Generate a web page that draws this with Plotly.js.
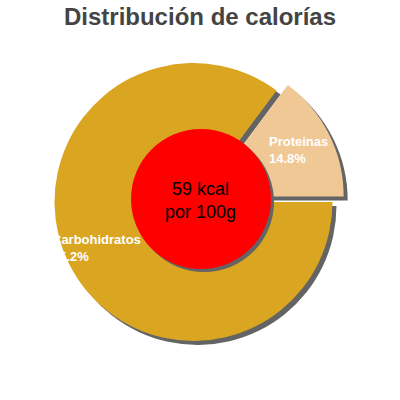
<!DOCTYPE html>
<html>
<head>
<meta charset="utf-8">
<script src="https://cdn.plot.ly/plotly-3.0.1.min.js"></script>
<style>
  html, body { margin: 0; padding: 0; background: #fff; }
  #chart { width: 400px; height: 400px; }
</style>
</head>
<body>
<div id="chart"></div>
<script>
// Datos del gráfico
const categorias = ["Carbohidratos", "Proteinas"];
const porcentajes = [85.2, 14.8];
const colores = ["#DAA520", "#F0C896"];
const separacion = [0, 0.09];
const energia = "59 kcal";
const porcion = "por 100g";

const W = 400, H = 400;
const px = v => v / W;          // pixel -> fracción horizontal
const py = v => (H - v) / H;    // pixel (desde arriba) -> fracción vertical

// Dominio de la tarta (centro ~193,202 radio ~139, con espacio para el "pull")
const cx = 193.5, cy = 202, medio = 151.5;
const sombra = 4;

function dominio(dx, dy) {
    return {
        x: [px(cx - medio + dx), px(cx + medio + dx)],
        y: [py(cy + medio + dy), py(cy - medio + dy)]
    };
}

const trazaSombra = {
    type: "pie",
    values: porcentajes,
    labels: categorias.map(c => c + " sombra"),
    marker: { colors: porcentajes.map(() => "#646464"), line: { width: 0 } },
    pull: separacion,
    sort: false,
    direction: "clockwise",
    rotation: 90,
    textinfo: "none",
    hoverinfo: "skip",
    showlegend: false,
    domain: dominio(sombra, sombra)
};

const trazaTarta = {
    type: "pie",
    values: porcentajes,
    labels: categorias,
    marker: { colors: colores, line: { width: 0 } },
    pull: separacion,
    sort: false,
    direction: "clockwise",
    rotation: 90,
    textinfo: "none",
    showlegend: false,
    domain: dominio(0, 0)
};

// Etiquetas de los sectores
const posEtiquetas = [[50, 248], [267, 150]];
const anotaciones = categorias.map((c, i) => ({
    xref: "paper", yref: "paper",
    x: px(posEtiquetas[i][0]), y: py(posEtiquetas[i][1]),
    xanchor: "left", yanchor: "middle", align: "left",
    showarrow: false,
    text: "<b>" + c + "<br>" + porcentajes[i].toFixed(1) + "%</b>",
    font: { family: "Liberation Sans, Arial, sans-serif", size: 13, color: "#ffffff" }
}));

anotaciones.push({
    xref: "paper", yref: "paper",
    x: px(201), y: py(201),
    xanchor: "center", yanchor: "middle",
    showarrow: false,
    text: energia + "<br>" + porcion,
    font: { family: "Liberation Sans, Arial, sans-serif", size: 18, color: "#000000" }
});

// Círculo central y su sombra
const rc = 70, ccx = 201, ccy = 199;
const formas = [
    { type: "circle", xref: "paper", yref: "paper", layer: "above",
      x0: px(ccx - rc + 3), x1: px(ccx + rc + 3), y0: py(ccy + rc + 3), y1: py(ccy - rc + 3),
      fillcolor: "#646464", line: { width: 0 } },
    { type: "circle", xref: "paper", yref: "paper", layer: "above",
      x0: px(ccx - rc), x1: px(ccx + rc), y0: py(ccy + rc), y1: py(ccy - rc),
      fillcolor: "#ff0000", line: { width: 0 } }
];

const layout = {
    width: W, height: H,
    margin: { t: 0, r: 0, l: 0, b: 0 },
    paper_bgcolor: "#ffffff",
    title: {
        text: "<b>Distribución de calorías</b>",
        x: 0.5, xanchor: "center",
        y: py(17), yanchor: "middle",
        font: { family: "Liberation Sans, Arial, sans-serif", size: 24, color: "#444444" }
    },
    shapes: formas,
    annotations: anotaciones,
    showlegend: false
};

Plotly.newPlot("chart", [trazaSombra, trazaTarta], layout, { staticPlot: true });
</script>
</body>
</html>
